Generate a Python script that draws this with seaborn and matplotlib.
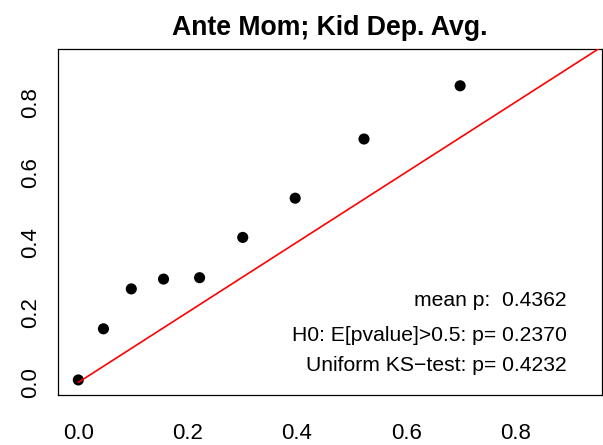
import matplotlib
matplotlib.use('Agg')
import matplotlib.pyplot as plt
import seaborn as sns
import pandas as pd

# ── Data ────────────────────────────────────────────────────
expected_p = [0.0, 0.046, 0.097, 0.156, 0.222, 0.301, 0.397, 0.523, 0.699]
observed_p = [0.007, 0.153, 0.267, 0.295, 0.299, 0.414, 0.526, 0.695, 0.847]
ref_x = [0.0, 1.0]
ref_y = [0.0, 1.0]
tick_vals = [0.0, 0.2, 0.4, 0.6, 0.8]
stats_lines = ["mean p:  0.4362",
               "H0: E[pvalue]>0.5: p= 0.2370",
               "Uniform KS\u2212test: p= 0.4232"]

df = pd.DataFrame({'expected': expected_p, 'observed': observed_p})
ref = pd.DataFrame({'x': ref_x, 'y': ref_y})

sns.set_style('white')
plt.rcParams['font.family'] = ['Liberation Sans', 'DejaVu Sans']
plt.rcParams['text.color'] = 'black'

fig = plt.figure(figsize=(6.03, 4.45), dpi=100)
ax = fig.add_axes([58 / 603, 50 / 445, 544 / 603, 346 / 445])

sns.scatterplot(data=df, x='expected', y='observed', ax=ax, color='black',
                s=64, edgecolor='none', zorder=2)
sns.lineplot(data=ref, x='x', y='y', ax=ax, color='#ff0000', linewidth=1.2,
             zorder=3)

ax.set_xlim(-0.0372, 0.9587)
ax.set_ylim(-0.036, 0.952)
ax.set_xticks(tick_vals)
ax.set_yticks(tick_vals)
ax.set_xticklabels([f'{v:.1f}' for v in tick_vals])
ax.set_yticklabels([f'{v:.1f}' for v in tick_vals], rotation=90, va='center')
ax.tick_params(axis='both', direction='out', length=9.5, width=0.75,
               color='black', labelsize=16, labelcolor='black')
ax.tick_params(axis='x', pad=11)
ax.tick_params(axis='y', pad=3)
ax.set_xlabel('')
ax.set_ylabel('')
for sp in ax.spines.values():
    sp.set_visible(True)
    sp.set_color('black')
    sp.set_linewidth(0.9)

ax.set_title('Ante Mom; Kid Dep. Avg.', fontsize=19.2, fontweight='bold',
             pad=10, color='black')

# stats block, bottom right
for txt, yy in zip(stats_lines, [0.2725, 0.1734, 0.0867]):
    ax.text(0.9357, yy, txt, transform=ax.transAxes, ha='right', va='center',
            fontsize=15.2, color='black')

fig.savefig('out.png', dpi=100)
